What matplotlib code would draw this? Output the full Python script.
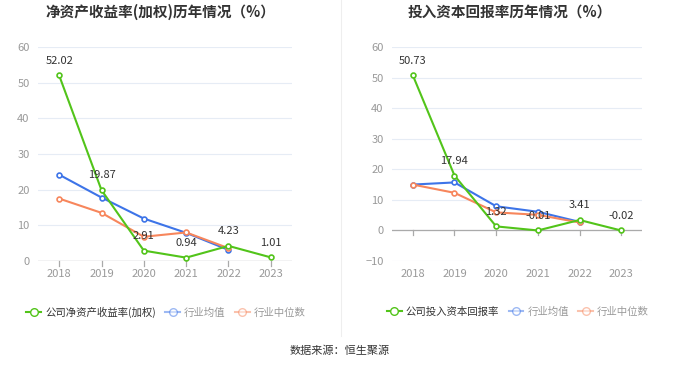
import matplotlib
matplotlib.use("Agg")
from matplotlib import pyplot as plt
from matplotlib.lines import Line2D

plt.rcParams['font.family'] = ['Noto Sans CJK SC', 'DejaVu Sans']

years = ['2018', '2019', '2020', '2021', '2022', '2023']

roe_company = [52.02, 19.87, 2.91, 0.94, 4.23, 1.01]
roe_avg = [24.2, 17.8, 11.9, 7.9, 3.1]
roe_median = [17.5, 13.5, 6.8, 8.0, 3.6]

roic_company = [50.73, 17.94, 1.32, -0.01, 3.41, -0.02]
roic_avg = [15.0, 15.7, 7.9, 6.1, 2.8]
roic_median = [15.0, 12.3, 5.9, 5.1, 2.6]

GREEN = '#52c41a'
BLUE = '#3d74e8'
ORANGE = '#f7865c'
W, H = 680, 367


def draw(ax, company, avg, median, ylim, yticks):
    x = list(range(len(years)))
    style = dict(marker='o', markersize=3.5, markerfacecolor='white', markeredgewidth=1.2, linewidth=1.5)
    ax.plot(x[:len(avg)], avg, color=BLUE, zorder=3, **style)
    ax.plot(x[:len(median)], median, color=ORANGE, zorder=3, **style)
    ax.plot(x, company, color=GREEN, zorder=4, **style)
    for xi, v in zip(x, company):
        ax.annotate(f'{v:.2f}', (xi, v), xytext=(0, 7), textcoords='offset points',
                    ha='center', va='bottom', fontsize=8, color='#333333', zorder=5)
    ax.set_xlim(-0.5, len(years) - 0.5)
    ax.set_ylim(*ylim)
    ax.set_yticks(yticks)
    ax.set_xticks(x)
    ax.set_xticklabels(years)
    ax.grid(axis='y', color='#e6ecf5', linewidth=0.8)
    ax.set_axisbelow(True)
    for s in ['top', 'right', 'left', 'bottom']:
        ax.spines[s].set_visible(False)
    ax.axhline(0, color='#aaaaaa', linewidth=0.9, zorder=2)
    ax.tick_params(axis='y', length=0, labelsize=8, labelcolor='#999999', pad=6)
    ax.tick_params(axis='x', length=0, labelsize=8, labelcolor='#999999', pad=6)
    tick = 1.5 if ylim[0] < 0 else 1.3
    for xi in x:
        ax.plot([xi, xi], [0, -tick], color='#aaaaaa', linewidth=0.9, clip_on=False)


def legend(fig, cx, label):
    handles = [
        Line2D([], [], color=GREEN, marker='o', markersize=5.5, markerfacecolor='white', linewidth=1.5),
        Line2D([], [], color=BLUE, marker='o', markersize=5.5, markerfacecolor='white', linewidth=1.5, alpha=0.5),
        Line2D([], [], color=ORANGE, marker='o', markersize=5.5, markerfacecolor='white', linewidth=1.5, alpha=0.5),
    ]
    leg = fig.legend(handles, [label, '行业均值', '行业中位数'], loc='center',
                     bbox_to_anchor=(cx / W, 1 - 312 / H), ncol=3, frameon=False,
                     fontsize=7.5, handlelength=1.4, handletextpad=0.4, columnspacing=0.9)
    for t, c in zip(leg.get_texts(), ['#333333', '#999999', '#999999']):
        t.set_color(c)


fig = plt.figure(figsize=(W / 100, H / 100), dpi=100)

ax1 = fig.add_axes([38 / W, (H - 261) / H, 254 / W, 214 / H])
draw(ax1, roe_company, roe_avg, roe_median, (0, 60), [0, 10, 20, 30, 40, 50, 60])

ax2 = fig.add_axes([392 / W, (H - 261) / H, 250 / W, 214 / H])
draw(ax2, roic_company, roic_avg, roic_median, (-10, 60), [-10, 0, 10, 20, 30, 40, 50, 60])

fig.text(160 / W, 1 - 12 / H, '净资产收益率(加权)历年情况（%）', ha='center', va='center',
         fontsize=10.5, fontweight='bold', color='#333333')
fig.text(510 / W, 1 - 12 / H, '投入资本回报率历年情况（%）', ha='center', va='center',
         fontsize=10.5, fontweight='bold', color='#333333')

legend(fig, 166, '公司净资产收益率(加权)')
legend(fig, 518, '公司投入资本回报率')

fig.add_artist(Line2D([341 / W, 341 / W], [1, 1 - 336 / H], color='#eeeeee', linewidth=0.8))

fig.text(0.5, 1 - 351 / H, '数据来源：恒生聚源', ha='center', va='center', fontsize=8, color='#333333')

fig.savefig('out.png', dpi=100)
